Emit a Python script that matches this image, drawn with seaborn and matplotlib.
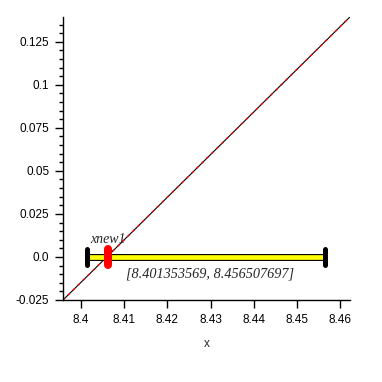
import numpy as np
import pandas as pd
import matplotlib
matplotlib.use('Agg')
import matplotlib.pyplot as plt
import seaborn as sns
from matplotlib.ticker import MultipleLocator

# curve (black) and its approximation (red, dashed)
curve_x = [8.3958, 8.4100, 8.4250, 8.4400, 8.4550, 8.4623]
curve_y = [-0.0250, 0.0100, 0.0471, 0.0842, 0.1213, 0.1394]
approx_y = [-0.0250, 0.0100, 0.0471, 0.0842, 0.1213, 0.1394]

interval = [8.401353569, 8.456507697]
xnew1 = 8.4063
interval_label = "[8.401353569, 8.456507697]"

sns.set_style("ticks")
plt.rcParams['font.family'] = ['Liberation Sans', 'DejaVu Sans']

fig = plt.figure(figsize=(3.82, 3.82), dpi=100)
ax = fig.add_axes([0.165, 0.2147, 0.751, 0.7408])

df = pd.DataFrame({'x': curve_x, 'f': curve_y, 'g': approx_y})
sns.lineplot(data=df, x='x', y='f', color='black', lw=0.8, ax=ax)
sns.lineplot(data=df, x='x', y='g', color='red', lw=1.0, ax=ax,
             dashes=False, linestyle=(0, (2, 3)))

# interval bar
ax.plot(interval, [0, 0], color='black', lw=5.0, solid_capstyle='butt', zorder=3)
ax.plot(interval, [0, 0], color='#ffff00', lw=3.4, solid_capstyle='butt', zorder=4)
h = 0.0047
for xv in interval:
    ax.plot([xv, xv], [-h, h], color='black', lw=3.6, solid_capstyle='round', zorder=5)
ax.plot([xnew1, xnew1], [-h, h], color='red', lw=5.8, solid_capstyle='round', zorder=6)

ax.text(xnew1 - 0.0002, 0.0066, "xnew1", ha='center', va='bottom', fontsize=10,
        style='italic', family=['Liberation Serif'])
ax.text(8.4104, -0.0098, interval_label, ha='left', va='center', fontsize=10.3,
        style='italic', family=['Liberation Serif'])

ax.set_xlim(8.3958, 8.4623)
ax.set_ylim(-0.025, 0.1394)
ax.yaxis.set_minor_locator(MultipleLocator(0.005))
ax.set_xticks([8.40, 8.41, 8.42, 8.43, 8.44, 8.45, 8.46])
ax.set_xticklabels(['8.4', '8.41', '8.42', '8.43', '8.44', '8.45', '8.46'])
ax.set_yticks([-0.025, 0.0, 0.025, 0.05, 0.075, 0.1, 0.125])
ax.set_yticklabels(['-0.025', '0.0', '0.025', '0.05', '0.075', '0.1', '0.125'])
ax.tick_params(axis='both', which='major', length=6, width=1, labelsize=8.5,
               color='black', labelcolor='black', pad=4)
ax.tick_params(axis='y', which='minor', length=3, width=1, color='black')
ax.set_xlabel('x', fontsize=8.5, labelpad=9)
ax.set_ylabel('')
sns.despine(ax=ax)
for s in ['left', 'bottom']:
    ax.spines[s].set_color('black')
    ax.spines[s].set_linewidth(1)
ax.grid(False)

fig.savefig('out.png', dpi=100)
